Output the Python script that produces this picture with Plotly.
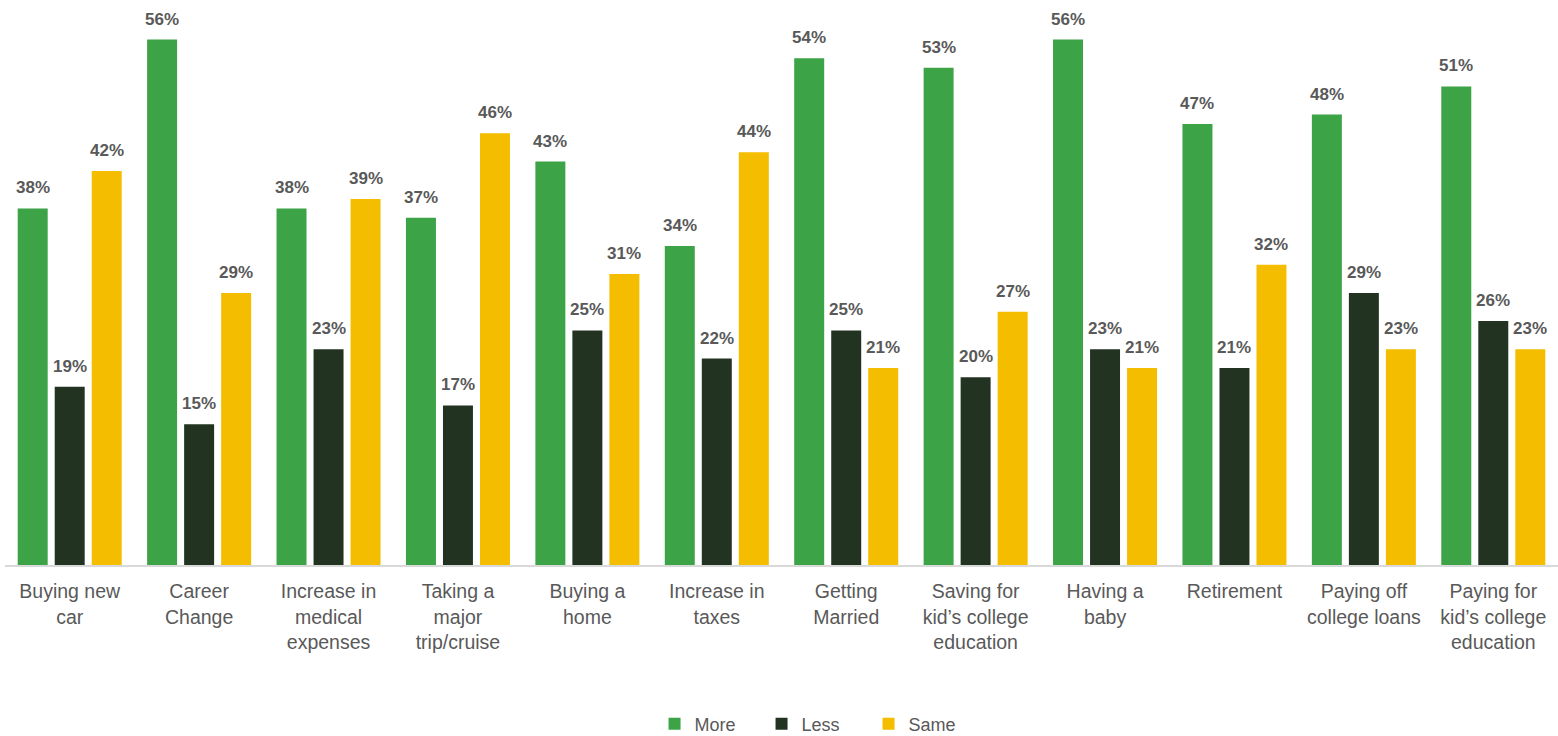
import plotly.graph_objects as go

categories = ["Buying new<br>car", "Career<br>Change", "Increase in<br>medical<br>expenses",
              "Taking a<br>major<br>trip/cruise", "Buying a<br>home", "Increase in<br>taxes",
              "Getting<br>Married", "Saving for<br>kid’s college<br>education", "Having a<br>baby",
              "Retirement", "Paying off<br>college loans", "Paying for<br>kid’s college<br>education"]
more = [38, 56, 38, 37, 43, 34, 54, 53, 56, 47, 48, 51]
less = [19, 15, 23, 17, 25, 22, 25, 20, 23, 21, 29, 26]
same = [42, 29, 39, 46, 31, 44, 21, 27, 21, 32, 23, 23]

series = [("More", more, "#3ca346"), ("Less", less, "#223322"), ("Same", same, "#f5bd00")]
offsets = [-37, 0, 37]

fig = go.Figure()
annotations = []
for (name, vals, col), dx in zip(series, offsets):
    fig.add_trace(go.Bar(
        x=categories, y=vals, name=name, marker=dict(color=col, line=dict(width=0)),
        hoverinfo="x+y",
    ))
    for c, v in zip(categories, vals):
        annotations.append(dict(
            x=c, y=v, text=f"{v}%", showarrow=False, xref="x", yref="y",
            xanchor="center", yanchor="bottom", xshift=dx, yshift=9,
            font=dict(family="Liberation Sans, Arial, sans-serif", size=17, color="#595959", weight="bold"),
        ))

fig.update_layout(
    width=1558, height=736,
    paper_bgcolor="white", plot_bgcolor="white",
    margin=dict(l=5, r=0, t=2, b=171, autoexpand=False),
    barmode="group", bargap=0.142, bargroupgap=0.19,
    font=dict(family="Liberation Sans, Arial, sans-serif", color="#595959", size=19),
    xaxis=dict(showline=True, linecolor="#d9d9d9", linewidth=2, ticks="", automargin=False,
               ticklabelstandoff=8,
               tickfont=dict(size=19.5, color="#595959"), showgrid=False),
    yaxis=dict(range=[0, 60], visible=False, showgrid=False, automargin=False),
    legend=dict(orientation="h", x=0.5216, xanchor="center", y=-0.2824, yanchor="middle",
                yref="paper", entrywidth=62, entrywidthmode="pixels",
                font=dict(size=18, color="#595959"), itemsizing="constant"),
    annotations=annotations,
    showlegend=True,
)

fig.write_html("out.html", config={"displayModeBar": False},
               post_script="document.body.style.margin='0';document.body.style.overflow='hidden';")
